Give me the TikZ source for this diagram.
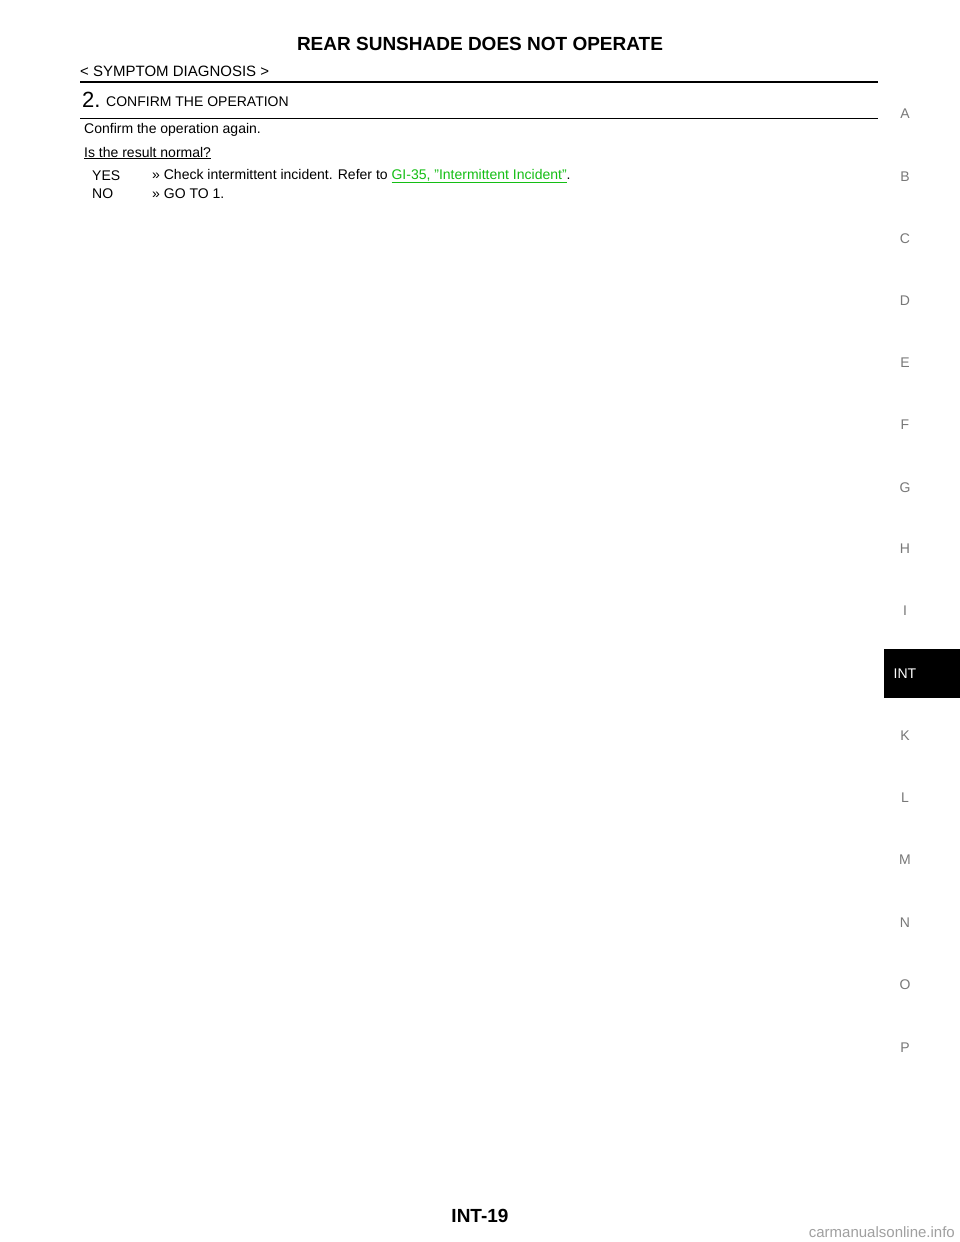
\documentclass[tikz,border=0pt]{standalone}
\usepackage{fontspec}
\setmainfont{Liberation Sans}
\definecolor{lnk}{RGB}{20,190,20}
\definecolor{side}{RGB}{120,120,120}
\begin{document}
\begin{tikzpicture}[x=1pt,y=-1pt,
  txt/.style={anchor=west,inner sep=0pt,font=\fontsize{14}{16}\selectfont},
  sidel/.style={inner sep=0pt,text=side,font=\fontsize{14}{16}\selectfont}]
\useasboundingbox[fill=white] (0,0) rectangle (960,1242);
\node[inner sep=0pt,font=\bfseries\fontsize{19}{22}\selectfont] (title) at (480,44) {REAR SUNSHADE DOES NOT OPERATE};
\node[txt,font=\fontsize{15}{17}\selectfont] (sec) at (80,71) {< SYMPTOM DIAGNOSIS >};
\draw[line width=2pt] (80,81.5) -- (878,81.5);
\node[txt,font=\fontsize{22}{24}\selectfont] (num) at (82,100) {2.};
\node[txt] (step) at (106,102) {CONFIRM THE OPERATION};
\draw[line width=0.8pt] (80,118) -- (878,118);
\node[txt] (c1) at (84,130) {Confirm the operation again.};
\node[txt] (q) at (84,153) {\underline{Is the result normal?}};
\node[txt] (yes) at (92,176) {YES};
\node[txt] (yest) at (152,176) {>> Check intermittent incident. Refer to \textcolor{lnk}{\underline{GI-35, "Intermittent Incident"}}.};
\node[txt] (no) at (92,194) {NO};
\node[txt] (not) at (152,194) {>> GO TO 1.};
\foreach \l/\y in {A/114,B/177,C/239,D/301,E/363,F/425,G/488,H/549,I/611,K/736,L/798,M/860,N/923,O/985,P/1048}
  \node[sidel] (s\l) at (905,\y) {\l};
\fill[black] (884,649) rectangle (960,698);
\node[inner sep=0pt,text=white,font=\fontsize{14}{16}\selectfont] (int) at (905,674) {INT};
\node[inner sep=0pt,font=\bfseries\fontsize{19}{22}\selectfont] (page) at (480,1216) {INT-19};
\node[anchor=east,inner sep=0pt,text=side!70,font=\fontsize{15}{17}\selectfont] (wm) at (955,1232) {carmanualsonline.info};
\end{tikzpicture}
\end{document}
